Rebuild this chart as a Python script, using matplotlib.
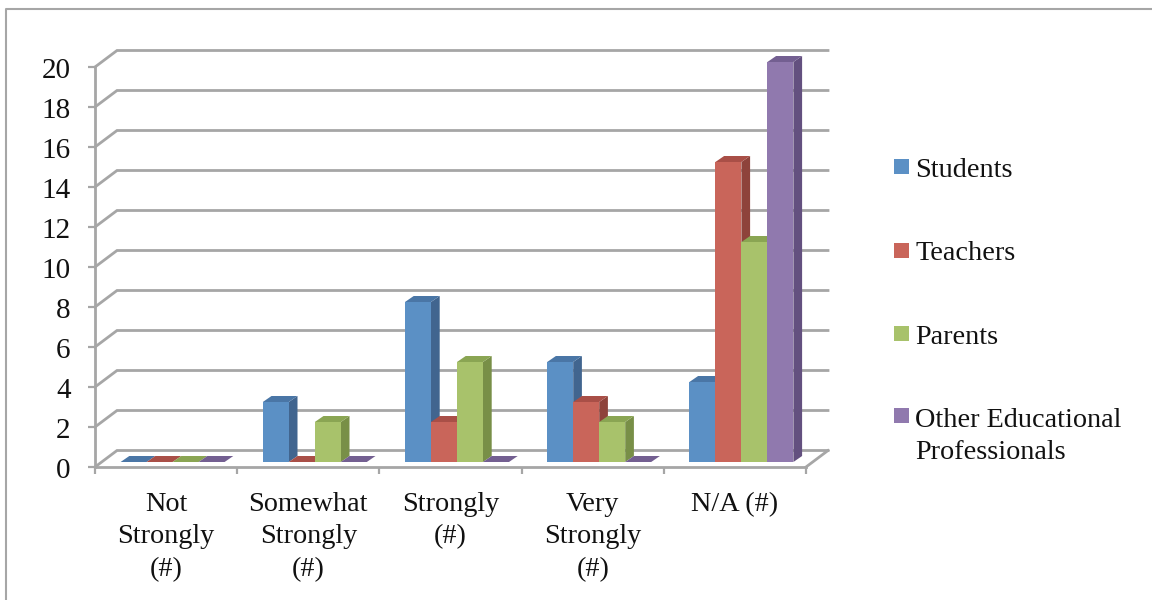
import matplotlib
matplotlib.use('Agg')
import matplotlib.pyplot as plt
from matplotlib.patches import Rectangle
from matplotlib.transforms import ScaledTranslation

categories = ['Not\nStrongly\n(#)', 'Somewhat\nStrongly\n(#)', 'Strongly\n(#)', 'Very\nStrongly\n(#)', 'N/A (#)']
students = [0, 3, 8, 5, 4]
teachers = [0, 0, 2, 3, 15]
parents = [0, 2, 5, 2, 11]
others = [0, 0, 0, 0, 20]
series_names = ['Students', 'Teachers', 'Parents', 'Other Educational\nProfessionals']
y_ticks = list(range(0, 21, 2))

front_colors = ['#5B90C5', '#C9655A', '#A8C26B', '#9079AE']
side_colors = ['#41658F', '#8E433B', '#788F47', '#63507F']
top_colors = ['#4A76A6', '#A94F47', '#8AA553', '#735F91']
grid_color = '#A6A6A6'
text_color = '#111111'

W, H = 1152, 600
plt.rcParams['font.family'] = ['Liberation Serif', 'DejaVu Serif']

fig = plt.figure(figsize=(W / 100, H / 100), dpi=100)
fig.patch.set_facecolor('white')

# axes box is the front wall of the fake 3D chart
left, right, bottom, top = 95, 806, 467, 67
ax = fig.add_axes([left / W, 1 - bottom / H, (right - left) / W, (bottom - top) / H])
ax.set_xlim(0, 5)
ax.set_ylim(0, 20)
ax.patch.set_visible(False)

px_x = 5 / (right - left)
px_y = 20 / (bottom - top)

# depth of the floor and of the bars
depth_x, depth_y = 22 * px_x, 16.5 * px_y
bar_dx, bar_dy = 8.7 * px_x, 6 * px_y
bar_shift_x, bar_shift_y = 6.5 * px_x, 5 * px_y
bar_w = 26 * px_x

# gridlines run along the left wall and then the back wall
for v in y_ticks:
    ax.plot([0, depth_x, 5 + depth_x], [v, v + depth_y, v + depth_y],
            color=grid_color, lw=2.0, clip_on=False, zorder=1, solid_joinstyle='miter')
ax.plot([5, 5 + depth_x], [0, depth_y], color=grid_color, lw=2.0, clip_on=False, zorder=1)

all_series = [students, teachers, parents, others]
for s, values in enumerate(all_series):
    for c, v in enumerate(values):
        x0 = c + 0.5 + (s - 2) * bar_w + bar_shift_x
        y0 = bar_shift_y
        x1 = x0 + bar_w
        ax.fill([x1, x1 + bar_dx, x1 + bar_dx, x1],
                [y0, y0 + bar_dy, y0 + v + bar_dy, y0 + v],
                color=side_colors[s], lw=0, clip_on=False, zorder=3 + s)
        ax.fill([x0, x1, x1 + bar_dx, x0 + bar_dx],
                [y0 + v, y0 + v, y0 + v + bar_dy, y0 + v + bar_dy],
                color=top_colors[s], lw=0, clip_on=False, zorder=3 + s)
        ax.bar(x0, v, width=bar_w, bottom=y0, align='edge',
               color=front_colors[s], lw=0, clip_on=False, zorder=3 + s)

ax.spines['top'].set_visible(False)
ax.spines['right'].set_visible(False)
for side in ['left', 'bottom']:
    ax.spines[side].set_color(grid_color)
    ax.spines[side].set_linewidth(2.0)
ax.set_yticks(y_ticks)
ax.set_xticks(range(6))
ax.set_xticklabels([])
ax.tick_params(axis='both', color=grid_color, width=1.6, length=5)
ax.tick_params(axis='y', pad=12.5, labelsize=21, labelcolor=text_color)

# tick labels sit slightly below their tick marks
nudge = ScaledTranslation(0, -1 / 100, fig.dpi_scale_trans)
for lab in ax.get_yticklabels():
    lab.set_transform(lab.get_transform() + nudge)

for c, label in enumerate(categories):
    ax.text(c + 0.5, -1.23, label, ha='center', va='top', fontsize=20.3,
            linespacing=1.41, color=text_color)

# legend placed by hand so the swatch lines up with the first text line
swatch_y = [166.5, 250, 333, 415.5]
text_y = [177, 260, 344, 427]
for name, color, sy, ty in zip(series_names, front_colors, swatch_y, text_y):
    fig.patches.append(Rectangle((894 / W, 1 - (sy + 7.5) / H), 15 / W, 15 / H,
                                 transform=fig.transFigure, facecolor=color, edgecolor='none'))
    first, *rest = name.split('\n')
    fig.text(915 / W, 1 - ty / H, first, ha='left', va='baseline', fontsize=20.3, color=text_color)
    for i, line in enumerate(rest):
        fig.text(915 / W, 1 - (ty + 32 * (i + 1)) / H, line, ha='left', va='baseline',
                 fontsize=20.3, color=text_color)

# outer chart frame
fig.add_artist(plt.Line2D([6 / W, 6 / W, 1], [0, 1 - 9 / H, 1 - 9 / H],
                          color='#A6A6A6', lw=1.5, transform=fig.transFigure))

fig.savefig('out.png', dpi=100)
